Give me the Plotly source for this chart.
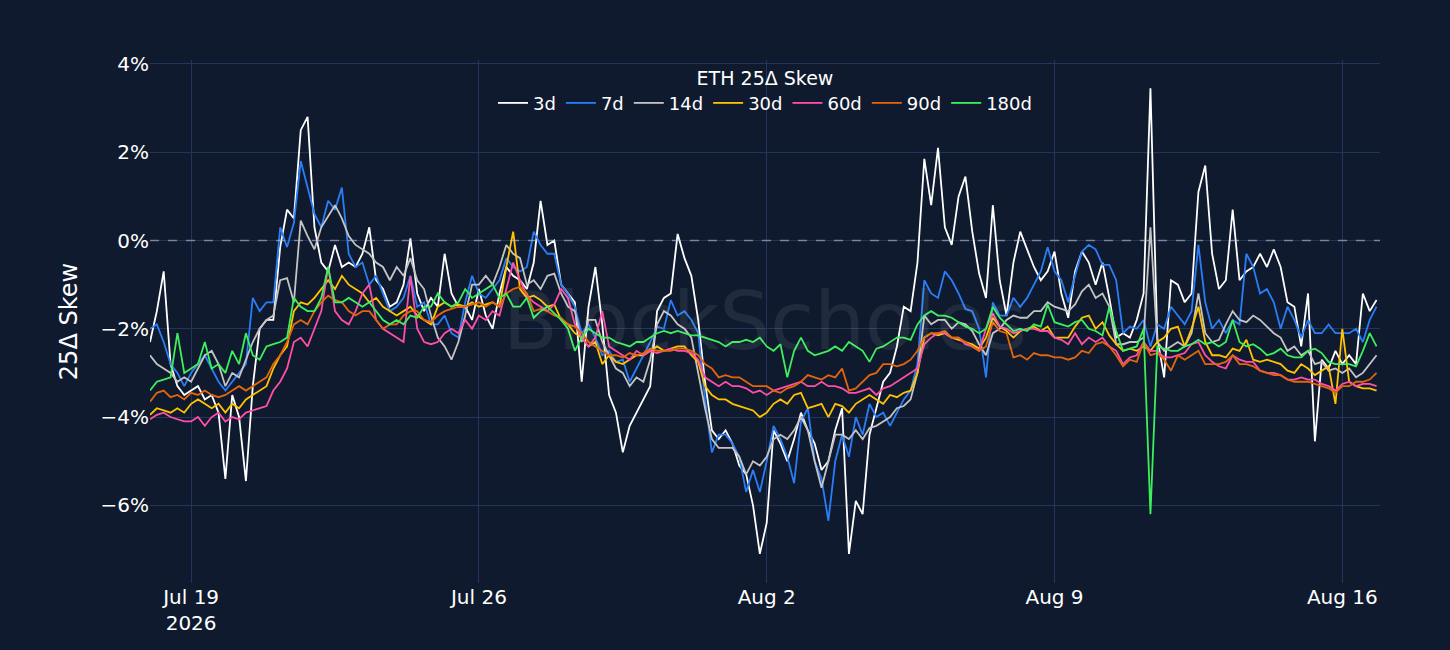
import pandas as pd
import plotly.graph_objects as go

# 4-hourly readings, Jul 18 00:00 -> Aug 16 20:00 (6 values per day)
times = pd.date_range("2026-07-18 00:00", periods=180, freq="4h")

skew_3d = [
    -2.3, -1.6, -0.7, -2.8, -3.3, -3.5,     # Jul 18
    -3.4, -3.3, -3.6, -3.5, -3.9, -5.4,     # Jul 19
    -3.5, -4.0, -5.45, -3.3, -2.0, -1.8,    # Jul 20
    -1.8, -0.15, 0.7, 0.5, 2.5, 2.8,        # Jul 21
    0.3, -0.5, -0.7, -0.1, -0.6, -0.5,      # Jul 22
    -0.6, -0.3, 0.3, -0.9, -1.1, -1.5,      # Jul 23
    -1.4, -1.0, 0.05, -1.2, -1.6, -1.3,     # Jul 24
    -1.5, -0.3, -1.2, -1.5, -1.5, -1.8,     # Jul 25
    -1.1, -1.7, -2.0, -1.2, -0.6, -0.8,     # Jul 26
    -0.9, -1.1, -0.5, 0.9, -0.1, 0.0,       # Jul 27
    -1.0, -1.2, -1.4, -3.2, -1.5, -0.6,     # Jul 28
    -1.9, -3.5, -3.9, -4.8, -4.2, -3.9,     # Jul 29
    -3.6, -3.3, -1.6, -1.3, -1.2, 0.15,     # Jul 30
    -0.4, -0.8, -1.8, -3.2, -4.3, -4.5,     # Jul 31
    -4.3, -4.6, -5.1, -5.3, -6.0, -7.1,     # Aug 1
    -6.4, -4.3, -4.6, -5.0, -4.5, -3.9,     # Aug 2
    -4.3, -4.6, -5.2, -5.0, -4.3, -3.8,     # Aug 3
    -7.1, -5.9, -6.2, -4.4, -3.8, -3.2,     # Aug 4
    -3.0, -2.4, -1.5, -1.6, -0.5, 1.85,     # Aug 5
    0.8, 2.1, 0.3, -0.1, 1.0, 1.45,         # Aug 6
    0.2, -0.75, -1.3, 0.8, -0.9, -1.7,      # Aug 7
    -0.5, 0.2, -0.2, -0.6, -0.9, -0.7,      # Aug 8
    -0.25, -1.2, -1.75, -0.7, -0.25, -0.5,  # Aug 9
    -1.0, -0.5, -1.3, -2.2, -2.1, -2.2,     # Aug 10
    -1.8, -1.2, 3.45, -2.2, -3.1, -0.9,     # Aug 11
    -1.0, -1.4, -1.2, 1.1, 1.7, -0.3,       # Aug 12
    -1.1, -0.9, 0.7, -0.9, -0.7, -0.6,      # Aug 13
    -0.3, -0.6, -0.2, -0.6, -1.4, -1.5,     # Aug 14
    -2.4, -1.2, -4.55, -2.7, -2.9, -2.5,    # Aug 15
    -2.8, -2.6, -2.8, -1.2, -1.6, -1.35,    # Aug 16
]

skew_7d = [
    -2.0, -1.9, -2.3, -2.8, -3.0, -3.3,
    -3.0, -2.8, -2.6, -2.9, -3.2, -3.4,
    -3.2, -3.0, -2.8, -1.3, -1.6, -1.4,
    -1.4, 0.3, -0.15, 0.4, 1.8, 1.2,
    0.6, 0.3, 0.9, 0.7, 1.2, -0.3,
    -0.6, -0.5, -1.0, -0.8, -1.2, -1.6,
    -1.5, -1.3, -0.8, -1.5, -1.4, -1.9,
    -1.9, -1.7, -2.1, -2.2, -1.4, -0.8,
    -1.2, -1.3, -1.1, -0.9, -0.4, -0.6,
    -0.7, -0.6, 0.2, -0.1, -0.3, -0.3,
    -1.0, -1.2, -1.5, -2.1, -1.9, -2.2,
    -2.6, -2.5, -2.75, -2.7, -3.2, -2.9,
    -2.6, -2.3, -1.95, -2.0, -1.35, -1.7,
    -1.6, -1.8, -2.1, -3.6, -4.8, -4.4,
    -4.4, -4.6, -4.9, -5.7, -5.2, -5.7,
    -5.0, -4.2, -4.5, -4.9, -5.5, -4.1,
    -3.8, -5.0, -5.4, -6.35, -5.0, -4.4,
    -4.9, -4.0, -4.4, -3.7, -4.0, -3.9,
    -4.2, -3.9, -3.6, -3.4, -2.8, -0.9,
    -1.2, -1.3, -0.7, -0.9, -1.2, -1.55,
    -1.6, -2.0, -3.1, -1.4, -1.7, -1.7,
    -1.3, -1.5, -1.3, -1.0, -0.7, -0.15,
    -0.7, -0.9, -1.4, -0.8, -0.25, -0.1,
    -0.2, -0.55, -0.55, -0.9, -2.1, -1.95,
    -2.0, -1.8, -2.4, -1.9, -2.0, -1.5,
    -1.7, -1.9, -1.6, -0.1, -1.4, -2.0,
    -1.8, -2.1, -1.8, -1.9, -0.3, -0.6,
    -1.2, -1.1, -1.4, -2.0, -1.5, -1.8,
    -2.2, -1.8, -2.1, -2.1, -1.9, -2.1,
    -2.1, -2.1, -2.0, -2.3, -1.8, -1.5,
]

skew_14d = [
    -2.6, -2.8, -2.9, -3.0, -3.2, -3.1,
    -3.2, -2.9, -2.6, -2.5, -2.8, -3.3,
    -3.0, -3.1, -2.7, -2.3, -2.0, -1.8,
    -1.7, -0.9, -0.85, -1.4, 0.45, 0.1,
    -0.2, 0.3, 0.55, 0.8, 0.5, 0.1,
    -0.1, -0.2, -0.3, -0.5, -0.6, -0.9,
    -0.6, -0.8, -0.4, -0.9, -1.1, -1.7,
    -2.2, -2.4, -2.7, -2.3, -1.7, -1.0,
    -1.0, -0.8, -1.0, -0.6, -0.1, -0.3,
    -0.4, -1.0, -0.9, -1.1, -0.8, -0.75,
    -1.2, -1.5, -1.6, -2.3, -1.8, -1.8,
    -2.3, -2.6, -2.9, -3.0, -3.3, -3.1,
    -3.2, -2.7, -1.9, -1.6, -1.7, -1.9,
    -2.0, -2.2, -3.0, -3.8, -4.5, -4.7,
    -4.7, -4.7, -4.9, -5.3, -5.0, -5.1,
    -4.9, -4.5, -4.4, -4.5, -4.3, -4.0,
    -4.3, -5.0, -5.6, -5.0, -4.4, -4.4,
    -4.5, -4.3, -4.5, -4.25, -4.2, -4.1,
    -4.0, -3.8, -3.75, -3.6, -3.0, -1.7,
    -1.9, -1.8, -1.8, -2.0, -1.85, -1.9,
    -2.05, -2.35, -2.6, -2.1, -2.0, -1.8,
    -1.7, -1.75, -1.75, -1.6, -1.6, -1.4,
    -1.5, -1.55, -1.6, -1.45, -1.15, -1.0,
    -1.3, -1.2, -1.5, -2.35, -2.35, -2.3,
    -2.3, -2.2, 0.3, -2.3, -2.5, -2.4,
    -2.3, -2.4, -2.1, -1.2, -2.1, -2.3,
    -2.25, -1.9, -1.6, -1.8, -1.85, -1.7,
    -1.8, -1.95, -2.1, -2.2, -2.5, -2.4,
    -2.6, -2.5, -2.8, -2.75, -2.95, -2.9,
    -3.0, -2.9, -3.1, -3.0, -2.8, -2.6,
]

skew_30d = [
    -3.95, -3.8, -3.85, -3.9, -3.8, -3.9,
    -3.7, -3.6, -3.7, -3.8, -3.7, -3.9,
    -3.7, -3.8, -3.6, -3.5, -3.4, -3.3,
    -2.9, -2.6, -2.4, -1.6, -1.4, -1.45,
    -1.3, -1.1, -0.9, -1.1, -0.8, -1.0,
    -1.1, -1.2, -1.4, -1.3, -1.5, -1.6,
    -1.7, -1.6, -1.5, -1.7, -1.8, -1.9,
    -1.5, -1.4, -1.5, -1.45, -1.5, -1.4,
    -1.5, -1.45, -1.4, -1.5, -0.6, 0.2,
    -1.1, -1.3, -1.25, -1.35, -1.5, -1.45,
    -1.8, -1.9, -2.1, -2.2, -2.4, -2.3,
    -2.8, -2.6, -2.75, -2.8, -2.7, -2.6,
    -2.6, -2.5, -2.4, -2.5, -2.45, -2.4,
    -2.4, -2.6, -2.75, -3.3, -3.5, -3.6,
    -3.6, -3.7, -3.75, -3.8, -3.85, -4.0,
    -3.9, -3.7, -3.6, -3.7, -3.5, -3.45,
    -3.8, -3.75, -3.7, -4.0, -3.7, -3.75,
    -3.9, -3.7, -3.6, -3.5, -3.6, -3.7,
    -3.5, -3.55, -3.45, -3.4, -3.0, -2.2,
    -2.1, -2.15, -2.1, -2.2, -2.25, -2.3,
    -2.35, -2.45, -2.2, -1.75, -1.95, -2.05,
    -2.2, -2.05, -2.0, -1.95, -2.05, -1.95,
    -2.2, -2.2, -2.2, -1.95, -1.75, -1.7,
    -2.0, -1.85, -2.15, -2.35, -2.5, -2.45,
    -2.5, -2.4, -2.5, -2.3, -2.2, -2.0,
    -1.95, -2.4, -2.0, -1.5, -2.3, -2.6,
    -2.6, -2.65, -2.45, -2.5, -2.25, -2.7,
    -2.75, -2.7, -2.75, -2.8, -2.95, -3.0,
    -2.8, -2.9, -3.05, -2.95, -2.85, -3.7,
    -2.0, -3.2, -3.3, -3.35, -3.35, -3.4,
]

skew_60d = [
    -4.05, -3.95, -3.9, -4.0, -4.05, -4.1,
    -4.1, -4.0, -4.2, -4.0, -3.9, -4.1,
    -4.0, -4.05, -3.9, -3.85, -3.8, -3.75,
    -3.4, -3.2, -2.9, -2.3, -2.2, -2.4,
    -2.0, -1.6, -0.6, -1.6, -1.8, -1.9,
    -1.6, -1.2, -1.0, -1.8, -2.0, -2.1,
    -2.2, -2.3, -0.8, -2.0, -2.3, -2.35,
    -2.3, -2.1, -2.0, -2.1, -1.8, -2.0,
    -1.7, -1.8, -1.6, -1.7, -1.1, -0.5,
    -0.9, -1.25, -1.4, -1.5, -1.6, -1.45,
    -1.1, -1.3, -1.9, -2.2, -2.4, -2.2,
    -1.6, -2.4, -2.5, -2.6, -2.7, -2.5,
    -2.6, -2.5, -2.55, -2.5, -2.45, -2.5,
    -2.5, -2.55, -2.7, -3.1, -3.2, -3.3,
    -3.2, -3.3, -3.3, -3.35, -3.45, -3.4,
    -3.5, -3.4, -3.35, -3.3, -3.25, -3.2,
    -3.3, -3.3, -3.2, -3.3, -3.3, -3.35,
    -3.45, -3.45, -3.4, -3.35, -3.5, -3.35,
    -3.3, -3.2, -3.1, -3.0, -2.9, -2.35,
    -2.2, -2.1, -2.1, -2.2, -2.2, -2.35,
    -2.4, -2.5, -2.0, -1.65, -1.95, -2.0,
    -2.1, -2.05, -2.0, -2.0, -2.05, -2.05,
    -2.2, -2.25, -2.35, -2.1, -2.35, -2.2,
    -2.3, -2.2, -2.4, -2.5, -2.8, -2.65,
    -2.6, -2.3, -2.5, -2.5, -2.65, -2.65,
    -2.6, -2.55, -2.35, -2.3, -2.6, -2.75,
    -2.85, -2.9, -2.6, -2.7, -2.75, -2.75,
    -2.95, -3.0, -3.0, -3.05, -3.15, -3.15,
    -3.1, -3.15, -3.15, -3.25, -3.3, -3.4,
    -3.25, -3.2, -3.3, -3.25, -3.25, -3.3,
]

skew_90d = [
    -3.65, -3.45, -3.4, -3.55, -3.5, -3.6,
    -3.45, -3.5, -3.4, -3.5, -3.55, -3.5,
    -3.4, -3.3, -3.4, -3.3, -3.2, -3.1,
    -2.8, -2.6, -2.3, -1.9, -1.8, -1.9,
    -1.6, -1.4, -1.25, -1.35, -1.4, -1.6,
    -1.7, -1.6, -1.6, -1.8, -2.0, -1.9,
    -1.9, -1.7, -1.6, -1.6, -1.8, -1.85,
    -1.7, -1.6, -1.55, -1.5, -1.5, -1.45,
    -1.4, -1.5, -1.4, -1.5, -1.2, -1.1,
    -1.05, -1.2, -1.6, -1.55, -1.6, -1.7,
    -1.75, -1.9, -1.95, -2.1, -2.3, -2.4,
    -2.5, -2.6, -2.6, -2.65, -2.55, -2.6,
    -2.55, -2.45, -2.5, -2.5, -2.5, -2.45,
    -2.45, -2.5, -2.6, -2.8, -2.9, -3.1,
    -3.05, -3.1, -3.1, -3.2, -3.3, -3.3,
    -3.3, -3.4, -3.45, -3.35, -3.3, -3.2,
    -3.05, -3.1, -3.15, -3.05, -3.1, -2.9,
    -3.4, -3.35, -3.2, -3.05, -3.0, -2.8,
    -2.8, -2.85, -2.8, -2.7, -2.5, -2.2,
    -2.1, -2.1, -2.05, -2.2, -2.2, -2.3,
    -2.4, -2.5, -2.4, -1.85, -2.05, -2.1,
    -2.65, -2.6, -2.7, -2.55, -2.6, -2.6,
    -2.65, -2.65, -2.7, -2.65, -2.5, -2.55,
    -2.35, -2.3, -2.4, -2.6, -2.85, -2.7,
    -2.75, -2.3, -2.6, -2.55, -2.7, -2.95,
    -2.6, -2.7, -2.6, -2.5, -2.8, -2.8,
    -2.8, -2.75, -2.6, -2.8, -2.8, -2.85,
    -2.95, -3.0, -3.05, -3.05, -3.15, -3.2,
    -3.2, -3.2, -3.25, -3.3, -3.35, -3.45,
    -3.3, -3.3, -3.2, -3.2, -3.15, -3.0,
]

skew_180d = [
    -3.4, -3.2, -3.15, -3.1, -2.1, -3.0,
    -2.9, -2.8, -2.3, -2.9, -2.8, -3.0,
    -2.5, -2.8, -2.1, -2.6, -2.7, -2.4,
    -2.35, -2.3, -2.2, -1.3, -1.5, -1.6,
    -1.6, -1.3, -0.6, -1.4, -1.4, -1.3,
    -1.4, -1.5, -1.4, -1.6, -1.8, -1.9,
    -1.8, -1.9, -1.7, -1.75, -1.5, -1.5,
    -1.2, -1.4, -1.5, -1.4, -1.1, -1.3,
    -1.2, -1.1, -1.0, -1.3, -1.2, -1.5,
    -1.5, -1.3, -1.75, -1.6, -1.5, -1.65,
    -1.8, -2.0, -2.5, -2.2, -2.0, -2.1,
    -2.2, -2.2, -2.3, -2.35, -2.4, -2.3,
    -2.3, -2.2, -2.1, -2.05, -2.1, -2.05,
    -2.1, -2.15, -2.15, -2.2, -2.25, -2.3,
    -2.4, -2.3, -2.3, -2.25, -2.3, -2.2,
    -2.4, -2.5, -2.35, -3.1, -2.5, -2.2,
    -2.5, -2.6, -2.55, -2.5, -2.4, -2.5,
    -2.3, -2.4, -2.5, -2.75, -2.45, -2.4,
    -2.3, -2.2, -2.2, -2.25, -1.9, -1.7,
    -1.6, -1.7, -1.7, -1.75, -1.85, -1.95,
    -2.0, -2.1, -2.0, -1.5, -1.75, -1.9,
    -2.05, -2.0, -2.05, -1.9, -1.95, -1.45,
    -1.85, -1.9, -1.95, -1.85, -1.8, -2.0,
    -2.05, -2.15, -1.5, -2.05, -2.5, -2.45,
    -2.4, -2.0, -6.2, -2.4, -2.45, -2.5,
    -2.5, -2.4, -2.35, -2.25, -2.35, -2.3,
    -2.4, -2.3, -1.8, -2.3, -2.4, -2.35,
    -2.45, -2.6, -2.55, -2.45, -2.6, -2.65,
    -2.65, -2.5, -2.45, -2.55, -2.75, -2.8,
    -2.8, -2.8, -2.85, -2.5, -2.1, -2.4,
]

tenors = ["3d", "7d", "14d", "30d", "60d", "90d", "180d"]
series = [skew_3d, skew_7d, skew_14d, skew_30d, skew_60d, skew_90d, skew_180d]
colors = ["#ffffff", "#2a7ef5", "#c4c4c4", "#ffc300", "#ff4fa6", "#e4650c", "#3cf05c"]

bg = "#0f1a2e"
grid = "#24355a"
font = "DejaVu Sans, Verdana, sans-serif"

fig = go.Figure()
for name, vals, col in zip(tenors, series, colors):
    fig.add_trace(go.Scatter(x=times, y=vals, name=name, mode="lines",
                             line=dict(color=col, width=1.8)))

fig.add_hline(y=0, line=dict(color="rgba(190,200,220,0.55)", width=1.5, dash="dash"))

# faint watermark over the plot
fig.add_annotation(text="BlockScholes", xref="paper", yref="paper", x=0.5, y=0.5,
                   showarrow=False, font=dict(family=font, size=80, color="rgba(255,255,255,0.08)"))

fig.update_layout(
    width=1450, height=650,
    paper_bgcolor=bg, plot_bgcolor=bg,
    font=dict(family=font, color="white", size=20),
    margin=dict(l=150, r=70, t=60, b=67),
    showlegend=True,
    legend=dict(orientation="h", x=0.5, xanchor="center", y=1.0, yanchor="top",
                bgcolor="rgba(0,0,0,0)", font=dict(size=18, color="white"),
                title=dict(text="ETH 25Δ Skew", side="top center", font=dict(size=19, color="white"))),
)
fig.update_xaxes(range=["2026-07-18 00:00", "2026-08-16 22:00"],
                 tick0="2026-07-19", dtick=7 * 24 * 3600 * 1000,
                 showgrid=True, gridcolor=grid, zeroline=False, showline=False,
                 tickfont=dict(size=20))
fig.update_yaxes(range=[-7.76, 4.09], dtick=2, ticksuffix="%",
                 showgrid=True, gridcolor=grid, zeroline=False, showline=False,
                 tickfont=dict(size=20),
                 title=dict(text="25Δ Skew", font=dict(size=24), standoff=16))

# drop the default page margin so the figure fills the window; no modebar
fig.write_html("out.html", config={"displayModeBar": False},
               post_script="document.body.style.margin='0';")
